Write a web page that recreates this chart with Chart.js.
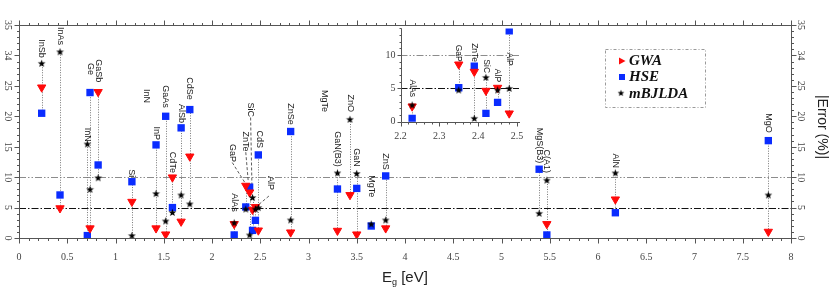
<!DOCTYPE html>
<html><head><meta charset="utf-8">
<script src="https://cdn.jsdelivr.net/npm/chart.js@4.4.0/dist/chart.umd.min.js"></script>
<style>
html,body{margin:0;padding:0;background:#fff;}
#wrap{position:relative;width:830px;height:287px;background:#fff;}
#main{position:absolute;left:0;top:0;}
#inset{position:absolute;left:360px;top:18px;}
</style></head><body>
<div id="wrap"><canvas id="main" width="830" height="287"></canvas><canvas id="inset" width="170" height="130"></canvas></div>
<script>
// ---------------- data ----------------
const materials = ['InSb','InAs','InN','Ge','GaSb','Si','InP','GaAs','CdTe','AlSb','CdSe','AlAs','GaP','ZnTe','SiC','AlP','CdS','ZnSe','GaN(B3)','ZnO','GaN','MgTe','ZnS','MgS(B3)','C(A1)','AlN','MgO'];
const bandGaps  = [0.235,0.425,0.708,0.736,0.82,1.17,1.42,1.52,1.59,1.68,1.77,2.23,2.35,2.39,2.42,2.45,2.48,2.815,3.30,3.43,3.50,3.65,3.80,5.39,5.47,6.18,7.765];
const gwaError  = [24.75,4.9,null,1.6,24.0,5.96,1.6,0.6,9.97,2.7,13.4,2.3,8.6,7.5,4.65,5.1,1.25,0.93,1.2,7.07,0.6,null,1.6,null,2.3,6.35,1.04];
const hseError  = [20.5,7.07,0.4,23.9,12.0,9.25,15.3,20.0,5.0,18.1,21.1,0.5,5.1,8.35,1.25,2.9,13.65,17.5,8.05,null,8.15,1.97,10.2,11.3,0.5,4.15,16.0];
const mbjError  = [28.7,30.6,15.45,8.0,9.9,0.4,7.3,2.8,4.2,7.07,5.6,2.5,4.75,0.5,6.65,4.75,5.0,2.96,10.7,19.5,10.6,2.3,2.96,4.05,9.5,10.7,7.07];
const seriesNames = ['GWA','HSE','mBJLDA'];
const xTickValues = [0,0.5,1,1.5,2,2.5,3,3.5,4,4.5,5,5.5,6,6.5,7,7.5,8];
const xTickLabels = ['0','0.5','1','1.5','2','2.5','3','3.5','4','4.5','5','5.5','6','6.5','7','7.5','8'];
const yTickValues = [0,5,10,15,20,25,30,35];
const yTickLabels = ['0','5','10','15','20','25','34','35'];
const insetXTickValues = [2.2,2.3,2.4,2.5];
const insetXTickLabels = ['2.2','2.3','2.4','2.5'];
const insetYTickValues = [0,5,10];
const insetYTickLabels = ['0','5','10'];
const refLines = [5,10];

// annotation placement (text, x, y where the rotated text ends)
const mainLabels = [
 ['InSb',0.235,29.6],['InAs',0.425,31.7],['InN',0.708,15.8],['Ge',0.736,26.8],['GaSb',0.82,25.6],
 ['Si',1.17,10.0],['InN',1.32,22.2],['InP',1.42,16.1],['GaAs',1.52,21.4],['CdTe',1.59,10.7],
 ['AlSb',1.68,18.9],['CdSe',1.77,22.7],['AlAs',2.23,4.3],['GaP',2.21,12.5],['ZnTe',2.35,14.2],
 ['SiC',2.40,19.9],['CdS',2.487,14.8],['AlP',2.61,7.9],['ZnSe',2.815,18.6],['MgTe',3.17,20.7],
 ['GaN(B3)',3.30,11.7],['ZnO',3.43,20.7],['GaN',3.50,11.7],['MgTe',3.65,6.7],['ZnS',3.80,11.2],
 ['MgS(B3)',5.39,12.3],['C(A1)',5.47,10.7],['AlN',6.18,11.5],['MgO',7.765,17.3]
];
const leaders = [[2.21,12.4,2.345,9.0],[2.35,14.1,2.375,9.4],[2.40,19.8,2.415,7.6],[2.59,6.9,2.47,5.3]];
const insetLabels = [['AlAs',2.23,3.7],['GaP',2.35,9.0],['ZnTe',2.39,8.95],['SiC',2.42,7.3],['AlP',2.45,5.95],['AlP',2.48,8.4]];

// ---------------- helpers ----------------
const starImg = (function(){
  const c = document.createElement('canvas'); c.width = 9; c.height = 9;
  const g = c.getContext('2d'); g.fillStyle = '#000'; g.beginPath();
  for (let k = 0; k < 10; k++) {
    const r = (k % 2 === 0) ? 4.1 : 1.7;
    const a = -Math.PI/2 + k*Math.PI/5;
    const px = 4.5 + r*Math.cos(a), py = 4.8 + r*Math.sin(a);
    if (k === 0) g.moveTo(px,py); else g.lineTo(px,py);
  }
  g.closePath(); g.fill(); return c;
})();

function points(vals, lo, hi){
  const out = [];
  vals.forEach((v,i)=>{ if (v !== null && bandGaps[i] >= lo && bandGaps[i] <= hi) out.push({x: bandGaps[i], y: v}); });
  return out;
}
function makeDatasets(lo, hi){
  return [
    {label: seriesNames[2], data: points(mbjError,lo,hi), pointStyle: starImg, order: 0},
    {label: seriesNames[0], data: points(gwaError,lo,hi), pointStyle: 'triangle', rotation: 180, pointRadius: 4.8,
      backgroundColor: '#ff0a0a', borderColor: '#ff0a0a', borderWidth: 1, order: 1},
    {label: seriesNames[1], data: points(hseError,lo,hi), pointStyle: 'rect', pointRadius: 5.2,
      backgroundColor: '#0a2cff', borderColor: '#0a2cff', borderWidth: 0, order: 2}
  ];
}
function line(ctx,x1,y1,x2,y2,dash,color,w){
  ctx.save(); ctx.beginPath(); ctx.setLineDash(dash||[]); ctx.strokeStyle=color; ctx.lineWidth=w||1;
  ctx.moveTo(x1,y1); ctx.lineTo(x2,y2); ctx.stroke(); ctx.restore();
}
function rotText(ctx,text,x,y,align,font,color){
  ctx.save(); ctx.translate(x,y); ctx.rotate(Math.PI/2); ctx.font=font; ctx.fillStyle=color;
  ctx.textAlign=align; ctx.textBaseline='middle'; ctx.fillText(text,0,0); ctx.restore();
}
const r5 = v => Math.round(v) + 0.5;
function connectors(ctx, x, y, lo, hi){
  bandGaps.forEach((g,i)=>{
    if (g < lo || g > hi) return;
    const vals = [gwaError[i],hseError[i],mbjError[i]].filter(v=>v!==null);
    if (vals.length < 2) return;
    const px = r5(x.getPixelForValue(g));
    line(ctx, px, y.getPixelForValue(Math.min(...vals)), px, y.getPixelForValue(Math.max(...vals)), [1,1.5], '#777', 1);
  });
}
const axisColor = '#555';
const tickColor = '#444';
const tickFont = '10px "Liberation Serif", "Times New Roman", serif';

// ---------------- main plugin ----------------
const mainPlugin = {
  id: 'mainDecor',
  beforeDatasetsDraw(chart){
    const {ctx, chartArea: a, scales: {x, y}} = chart;
    line(ctx, a.left, r5(y.getPixelForValue(refLines[1])), a.right, r5(y.getPixelForValue(refLines[1])), [7,2,1.5,2,1.5,2], '#8c8c8c', 1);
    line(ctx, a.left, r5(y.getPixelForValue(refLines[0])), a.right, r5(y.getPixelForValue(refLines[0])), [7,2,1.5,2], '#111', 1);
    connectors(ctx, x, y, -1, 99);
    leaders.forEach(l => line(ctx, x.getPixelForValue(l[0]), y.getPixelForValue(l[1]), x.getPixelForValue(l[2]), y.getPixelForValue(l[3]), [3,2], '#333', 0.8));
    ctx.save(); ctx.strokeStyle = axisColor; ctx.lineWidth = 1;
    ctx.strokeRect(r5(a.left), r5(a.top), Math.round(a.right - a.left), Math.round(a.bottom - a.top));
    ctx.restore();
    for (let i = 0; i <= 80; i++){
      const v = i/10, px = r5(x.getPixelForValue(v)), len = (i % 5 === 0) ? 5 : 2.5;
      line(ctx, px, r5(a.bottom), px, r5(a.bottom)+len, [], axisColor, 1);
      line(ctx, px, r5(a.top), px, r5(a.top)-len, [], axisColor, 1);
    }
    for (let i = 0; i <= 35; i++){
      const py = r5(y.getPixelForValue(i)), len = (i % 5 === 0) ? 5 : 2.5;
      line(ctx, r5(a.left), py, r5(a.left)-len, py, [], axisColor, 1);
      line(ctx, r5(a.right), py, r5(a.right)+len, py, [], axisColor, 1);
    }
  },
  afterDatasetsDraw(chart){
    const {ctx, chartArea: a, scales: {x, y}} = chart;
    ctx.save();
    ctx.font = tickFont; ctx.fillStyle = tickColor; ctx.textAlign = 'center'; ctx.textBaseline = 'middle';
    xTickValues.forEach((v,i)=> ctx.fillText(xTickLabels[i], x.getPixelForValue(v), a.bottom + 19));
    ctx.restore();
    yTickValues.forEach((v,i)=>{
      rotText(ctx, yTickLabels[i], 8, y.getPixelForValue(v), 'center', tickFont, tickColor);
      rotText(ctx, yTickLabels[i], a.right + 10, y.getPixelForValue(v), 'center', tickFont, tickColor);
    });
    mainLabels.forEach(l => rotText(ctx, l[0], x.getPixelForValue(l[1]), y.getPixelForValue(l[2]), 'right', '9px "Liberation Sans", Arial, sans-serif', '#222'));
    ctx.save(); ctx.fillStyle = '#222'; ctx.textBaseline = 'alphabetic';
    ctx.font = '15px "Liberation Sans", Arial, sans-serif'; ctx.textAlign = 'left';
    const bx = 382, by = 282;
    ctx.fillText('E', bx, by);
    const ew = ctx.measureText('E').width;
    ctx.font = '9px "Liberation Sans", Arial, sans-serif'; ctx.fillText('g', bx + ew, by + 3);
    const gw = ctx.measureText('g').width;
    ctx.font = '15px "Liberation Sans", Arial, sans-serif'; ctx.fillText(' [eV]', bx + ew + gw, by);
    ctx.restore();
    rotText(ctx, '|Error (%)|', 822, 127, 'center', '14px "Liberation Sans", Arial, sans-serif', '#222');
    // legend
    ctx.save();
    ctx.strokeStyle = '#9a9a9a'; ctx.lineWidth = 1; ctx.setLineDash([3,2,1,2]);
    ctx.strokeRect(605.5, 49.5, 100, 58);
    ctx.setLineDash([]);
    ctx.fillStyle = '#ff0a0a'; ctx.beginPath(); ctx.moveTo(619, 57.5); ctx.lineTo(625.5, 61); ctx.lineTo(619, 64.5); ctx.closePath(); ctx.fill();
    ctx.fillStyle = '#0a2cff'; ctx.fillRect(619, 74, 6, 6);
    ctx.drawImage(starImg, 617, 89, 8, 8);
    ctx.fillStyle = '#111'; ctx.font = 'italic bold 15px "Liberation Serif", "Times New Roman", serif';
    ctx.textAlign = 'left'; ctx.textBaseline = 'middle';
    ctx.fillText(seriesNames[0], 629, 61.5);
    ctx.fillText(seriesNames[1], 629, 77.5);
    ctx.fillText(seriesNames[2], 629, 94);
    ctx.restore();
  }
};

// ---------------- inset plugin ----------------
const insetPlugin = {
  id: 'insetDecor',
  beforeDatasetsDraw(chart){
    const {ctx, chartArea: a, scales: {x, y}} = chart;
    line(ctx, a.left, r5(y.getPixelForValue(refLines[1])), a.right + 2, r5(y.getPixelForValue(refLines[1])), [7,2,1.5,2,1.5,2], '#8c8c8c', 1);
    line(ctx, a.left, r5(y.getPixelForValue(refLines[0])), a.right + 2, r5(y.getPixelForValue(refLines[0])), [7,2,1.5,2], '#111', 1);
    connectors(ctx, x, y, 2.2, 2.5);
    line(ctx, r5(a.left), a.top, r5(a.left), r5(a.bottom), [], axisColor, 1);
    line(ctx, r5(a.left), r5(a.bottom), a.right + 3, r5(a.bottom), [], axisColor, 1);
    for (let i = 0; i <= 14; i++){
      const py = r5(y.getPixelForValue(i)), len = (i % 5 === 0) ? 4 : 2;
      line(ctx, r5(a.left), py, r5(a.left) - len, py, [], axisColor, 1);
    }
    for (let i = 0; i <= 15; i++){
      const px = r5(x.getPixelForValue(2.2 + i*0.02)), len = (i % 5 === 0) ? 4 : 2;
      line(ctx, px, r5(a.bottom), px, r5(a.bottom) + len, [], axisColor, 1);
    }
  },
  afterDatasetsDraw(chart){
    const {ctx, chartArea: a, scales: {x, y}} = chart;
    ctx.save(); ctx.font = tickFont; ctx.fillStyle = tickColor;
    ctx.textAlign = 'right'; ctx.textBaseline = 'middle';
    insetYTickValues.forEach((v,i)=> ctx.fillText(insetYTickLabels[i], a.left - 5, y.getPixelForValue(v)));
    ctx.textAlign = 'center';
    insetXTickValues.forEach((v,i)=> ctx.fillText(insetXTickLabels[i], x.getPixelForValue(v), a.bottom + 15));
    ctx.restore();
    insetLabels.forEach(l => rotText(ctx, l[0], x.getPixelForValue(l[1]), y.getPixelForValue(l[2]), 'right', '8.5px "Liberation Sans", Arial, sans-serif', '#222'));
  }
};

function baseOptions(xmin,xmax,ymin,ymax,padding){
  return {
    responsive: false, animation: false, devicePixelRatio: 1, events: [],
    layout: {padding: padding},
    plugins: {legend: {display: false}, tooltip: {enabled: false}},
    scales: {
      x: {type: 'linear', min: xmin, max: xmax, display: false},
      y: {type: 'linear', min: ymin, max: ymax, display: false}
    }
  };
}

new Chart(document.getElementById('main'), {
  type: 'scatter',
  data: {datasets: makeDatasets(-1, 99)},
  options: baseOptions(0, 8, 0, 35, {left: 19, right: 39, top: 25, bottom: 49}),
  plugins: [mainPlugin]
});
new Chart(document.getElementById('inset'), {
  type: 'scatter',
  data: {datasets: makeDatasets(2.2, 2.5)},
  options: baseOptions(2.2, 2.5, 0, 14, {left: 40.5, right: 13, top: 10.4, bottom: 26.3}),
  plugins: [insetPlugin]
});
</script>
</body></html>
